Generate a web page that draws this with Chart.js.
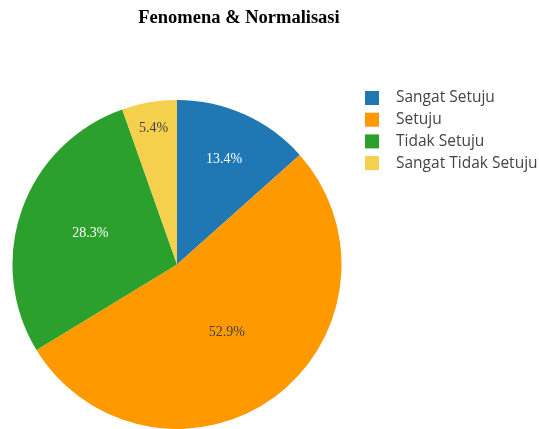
<!DOCTYPE html>
<html lang="en">
<head>
<meta charset="UTF-8">
<title>Fenomena & Normalisasi</title>
<script src="https://cdn.jsdelivr.net/npm/chart.js@4.4.0/dist/chart.umd.min.js"></script>
<style>
  body { margin: 0; background: #fff; }
</style>
</head>
<body>
<canvas id="myChart" width="539" height="429"></canvas>
<script>
// data
const titleText = 'Fenomena & Normalisasi';
const categories = ['Sangat Setuju', 'Setuju', 'Tidak Setuju', 'Sangat Tidak Setuju'];
const percentages = [13.4, 52.9, 28.3, 5.4];

// styles
const sliceColors = ['#1f77b4', '#ff9900', '#2ca02c', '#f5d04c'];
const labelColors = ['#ffffff', '#444444', '#ffffff', '#444444'];
// how far out (fraction of radius) each percent label sits
const labelRadius = [0.70, 0.51, 0.56, 0.84];

// percent text inside each slice
const sliceLabels = {
    id: 'sliceLabels',
    afterDatasetsDraw(chart) {
        const ctx = chart.ctx;
        const meta = chart.getDatasetMeta(0);
        ctx.save();
        ctx.font = '14px "Liberation Serif", "Times New Roman", serif';
        ctx.textAlign = 'center';
        ctx.textBaseline = 'middle';
        meta.data.forEach((arc, i) => {
            const p = arc.getProps(['x', 'y', 'startAngle', 'endAngle', 'outerRadius'], true);
            const mid = (p.startAngle + p.endAngle) / 2;
            const r = p.outerRadius * labelRadius[i];
            ctx.fillStyle = labelColors[i];
            ctx.fillText(percentages[i].toFixed(1) + '%', p.x + Math.cos(mid) * r, p.y + Math.sin(mid) * r);
        });
        ctx.restore();
    }
};

// title + legend on the right, placed like the original
const sideLegend = {
    id: 'sideLegend',
    afterDraw(chart) {
        const ctx = chart.ctx;
        ctx.save();
        ctx.font = 'bold 18.5px "Liberation Serif", "Times New Roman", serif';
        ctx.fillStyle = '#000';
        ctx.textAlign = 'center';
        ctx.textBaseline = 'middle';
        ctx.fillText(titleText, 239, 18);

        ctx.font = '15.5px "Open Sans", sans-serif';
        ctx.textAlign = 'left';
        categories.forEach((c, i) => {
            const y = 98 + i * 21.7;
            ctx.fillStyle = sliceColors[i];
            ctx.fillRect(365, y - 7, 14, 14);
            ctx.fillStyle = '#444';
            ctx.fillText(c, 396, y);
        });
        ctx.restore();
    }
};

const ctx = document.getElementById('myChart').getContext('2d');
const myChart = new Chart(ctx, {
    type: 'pie',
    data: {
        labels: categories,
        datasets: [{
            data: percentages,
            backgroundColor: sliceColors,
            borderWidth: 0
        }]
    },
    options: {
        responsive: false,
        animation: false,
        layout: {
            padding: { top: 100, left: 12, right: 197, bottom: 0 }
        },
        plugins: {
            legend: { display: false },
            tooltip: { enabled: false },
            title: { display: false }
        }
    },
    plugins: [sliceLabels, sideLegend]
});
</script>
</body>
</html>
